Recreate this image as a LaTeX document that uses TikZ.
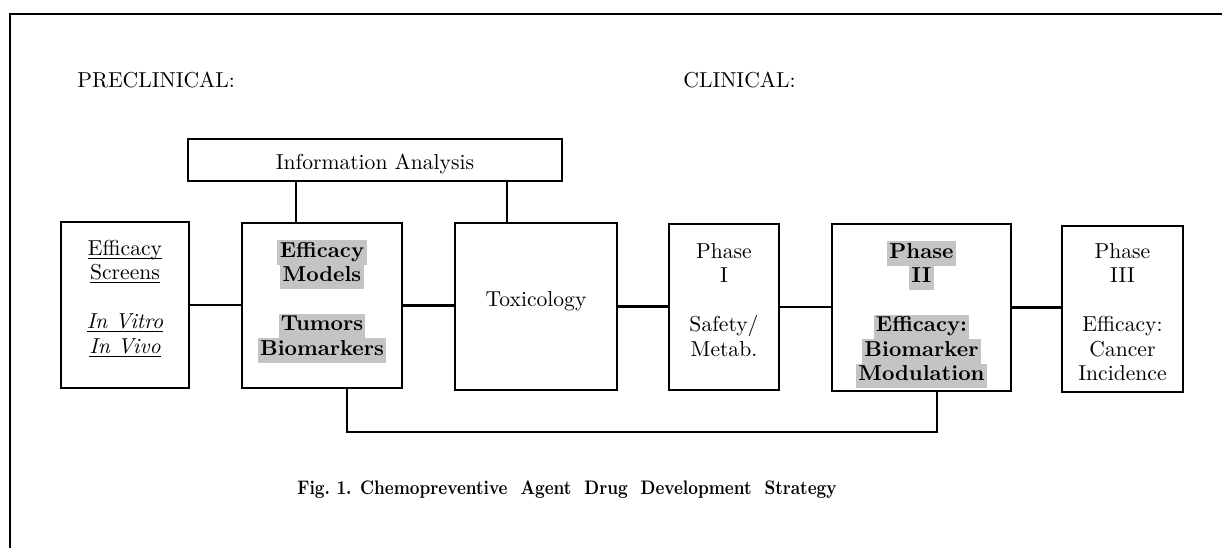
\documentclass[tikz,border=0pt]{standalone}
\usepackage{graphicx}
\usetikzlibrary{fit}
\definecolor{shade}{gray}{0.77}
\newcommand\hl[1]{{\setlength{\fboxsep}{0pt}\colorbox{shade}{\strut\kern1.2pt#1\kern1.2pt}}}
\newcommand\ul[1]{\underline{\smash{#1}}}
\tikzset{
  frameline/.style={line width=1.2pt},
  fitbox/.style={draw, line width=1.05pt, inner sep=0pt},
  link/.style={line width=1.05pt},
  txt/.style={inner sep=0pt, align=center, anchor=north, font=\fontsize{10.8}{12.25}\selectfont},
  txtb/.style={txt, font=\fontsize{10.8}{12.25}\selectfont\bfseries},
  lab/.style={inner sep=0pt, font=\fontsize{10.8}{12.25}\selectfont},
}
\begin{document}
\begin{tikzpicture}[x=0.5pt,y=-0.5pt]
\useasboundingbox (0,0) rectangle (1222,548);
% frame (top and left edges)
\draw[frameline] (1222,14) -- (10,14) -- (10,548);

\node[lab, anchor=base west] (pre) at (77,87) {PRECLINICAL:};
\node[lab, anchor=base west] (cli) at (683,87) {CLINICAL:};

\node[fitbox, fit={(188,139) (562,181)}] (info) {};
\node[lab, anchor=base] (infot) at (375,169) {Information Analysis};

\node[fitbox, fit={(61,222) (189,388)}] (b1) {};
\node[fitbox, fit={(242,223) (402,388)}] (b2) {};
\node[fitbox, fit={(455,223) (617,390)}] (b3) {};
\node[fitbox, fit={(669,224) (779,390)}] (b4) {};
\node[fitbox, fit={(832,224) (1011,391)}] (b5) {};
\node[fitbox, fit={(1062,226) (1183,392)}] (b6) {};

\node[txt] (t1) at (125,237.8) {\strut\ul{Efficacy}\\\ul{Screens}\\[12.25pt]\ul{\textit{In Vitro}}\\\ul{\textit{In Vivo}}};
\node[txtb] (t2) at (322,239.8) {\hl{Efficacy}\\\hl{Models}\\[12.25pt]\hl{Tumors}\\\hl{Biomarkers}};
\node[lab, anchor=base] (t3) at (536,306) {Toxicology};
\node[txt] (t4) at (724,240.8) {\strut Phase\\I\\[12.25pt]Safety/\\Metab.};
\node[txtb] (t5) at (921.5,240.8) {\hl{Phase}\\\hl{II}\\[12.25pt]\hl{Efficacy:}\\\hl{Biomarker}\\\hl{Modulation}};
\node[txt] (t6) at (1122.5,240.8) {\strut Phase\\III\\[12.25pt]Efficacy:\\Cancer\\Incidence};

% horizontal chain
\draw[link] (b1.east) -- (b1.east -| b2.west);
\draw[link] (b2.east) -- (b2.east -| b3.west);
\draw[link] (b3.east) -- (b3.east -| b4.west);
\draw[link] (b4.east) -- (b4.east -| b5.west);
\draw[link] (b5.east) -- (b5.east -| b6.west);

% information analysis links
\coordinate (ia) at (296,0);
\coordinate (ib) at (507,0);
\draw[link] (info.south -| ia) -- (b2.north -| ia);
\draw[link] (info.south -| ib) -- (b3.north -| ib);

% bottom feedback link
\coordinate (ba) at (347,432);
\coordinate (bb) at (937,432);
\draw[link] (b2.south -| ba) -- (ba) -- (bb) -- (b5.south -| bb);

\node[inner sep=0pt, anchor=base, font=\fontsize{9.8}{11}\selectfont\bfseries] (cap) at (567,494) {\scalebox{0.86}[1]{Fig.~1. Chemopreventive\ \ Agent\ \ Drug\ \ Development\ \ Strategy}};
\end{tikzpicture}
\end{document}
